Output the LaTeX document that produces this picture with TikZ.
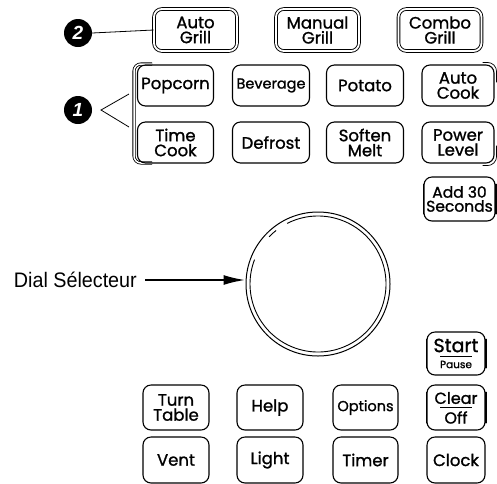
\documentclass[tikz,border=0pt]{standalone}
\usepackage{fontspec}
\usetikzlibrary{arrows.meta}
\setmainfont{Poppins}[FakeBold=1.2]
\newfontfamily\labfont{Liberation Sans}
\begin{document}
\begin{tikzpicture}[x=1pt,y=-1pt,
  btn/.style={draw, line width=1.1pt, rounded corners=8pt, align=center, inner sep=0pt,
    font=\fontsize{16.5}{15}\selectfont},
  dbtn/.style={btn, double=white, double distance=1.8pt, line width=0.9pt},
  badge/.style={circle, fill=black, minimum size=28pt, inner sep=0pt, text=white,
    font=\labfont\bfseries\itshape\fontsize{19}{19}\selectfont},
  lead/.style={line width=0.8pt},
  side/.style={line width=1.9pt, line cap=round},
  extra/.style={line width=0.7pt, rounded corners=9pt}]
\useasboundingbox (0,0) rectangle (497,483);
% top row
\node[dbtn, minimum width=83pt, minimum height=42pt] (autogrill) at (195.5,30) {Auto\\Grill};
\node[dbtn, minimum width=83pt, minimum height=42pt] (manualgrill) at (317.5,30) {Manual\\Grill};
\node[dbtn, minimum width=83pt, minimum height=42pt] (combogrill) at (440,30) {Combo\\Grill};
% group bracket
\draw[line width=0.8pt, double=white, double distance=1.5pt, rounded corners=7pt]
  (152,64) -- (134,64) -- (134,163) -- (152,163);
% row 2
\node[btn, minimum width=76pt, minimum height=41pt] (popcorn) at (175.5,85.5) {Popcorn};
\node[btn, minimum width=77pt, minimum height=41pt] (beverage) at (271,85.5) {\fontsize{14.5}{14}\selectfont Beverage};
\node[btn, minimum width=77pt, minimum height=41pt] (potato) at (365,85.5) {Potato};
\node[btn, minimum width=72pt, minimum height=41pt] (autocook) at (458,85.5) {Auto\\Cook};
\draw[extra] ([xshift=-12pt,yshift=2pt]autocook.north east) -- ([xshift=2pt,yshift=2pt]autocook.north east) -- ([xshift=2pt,yshift=-18pt]autocook.north east);
% row 3
\node[btn, minimum width=76pt, minimum height=41pt] (timecook) at (175.5,142.5) {Time\\Cook};
\node[btn, minimum width=77pt, minimum height=41pt] (defrost) at (271,142.5) {Defrost};
\node[btn, minimum width=77pt, minimum height=41pt] (soften) at (365,142.5) {Soften\\Melt};
\node[btn, minimum width=72pt, minimum height=41pt] (power) at (458,142.5) {Power\\Level};
\draw[extra] ([xshift=-12pt,yshift=-2pt]power.south east) -- ([xshift=2pt,yshift=-2pt]power.south east) -- ([xshift=2pt,yshift=18pt]power.south east);
% add 30
\node[btn, minimum width=71pt, minimum height=44pt, font=\fontsize{15.5}{14}\selectfont] (add30) at (459.5,199) {Add 30\\Seconds};
\draw[side] ([yshift=8pt]add30.south west) -- ([yshift=-8pt]add30.north west);
\draw[side] ([yshift=8pt]add30.south east) -- ([yshift=-8pt]add30.north east);
% dial
\node[circle, draw, line width=1pt, minimum size=144pt, inner sep=0pt] (dial) at (318,284) {};
\draw[line width=0.9pt] (dial.center) ++(243:68) arc[start angle=243, end angle=561, radius=68];
\draw[line width=0.9pt] (dial.center) ++(224:68) arc[start angle=224, end angle=232, radius=68];
\node[anchor=east, font=\labfont\fontsize{21}{21}\selectfont, xscale=0.94, inner sep=0pt] (diallab) at (137,280) {Dial Sélecteur};
\draw[-{Latex[length=22pt,width=10pt]}, line width=2.2pt] (145,280) -- (dial.west |- 0,280);
% badges
\node[badge] (b2) at (78,33) {2};
\node[badge] (b1) at (78,110) {1};
\draw[lead] (b2.east) -- (autogrill.west);
\coordinate (c1a) at (129,94);
\coordinate (c1b) at (129,127);
\draw[lead] (c1a) -- (101,110) -- (c1b);
% start / clear
\node[btn, minimum width=58pt, minimum height=43pt] (start) at (456,353.5) {};
\draw[side] ([yshift=8pt]start.south west) -- ([yshift=-8pt]start.north west);
\draw[side] ([yshift=8pt]start.south east) -- ([yshift=-8pt]start.north east);
\node[font=\fontsize{19}{19}\selectfont, inner sep=0pt] (starttxt) at (456,345.5) {Start};
\node[font=\fontsize{10.5}{10}\selectfont, inner sep=0pt] (pausetxt) at (456,364.5) {Pause};
\draw[line width=0.6pt] (440,356) -- (472,356);
% row 5
\node[btn, minimum width=66pt, minimum height=45pt] (turntable) at (176,407.5) {Turn\\Table};
\node[btn, minimum width=66pt, minimum height=45pt] (help) at (270,407.5) {Help};
\node[btn, minimum width=65pt, minimum height=45pt] (options) at (365.5,407.5) {\fontsize{14.5}{14}\selectfont Options};
\node[btn, minimum width=58pt, minimum height=45pt] (clear) at (456,407.5) {};
\draw[side] ([yshift=8pt]clear.south west) -- ([yshift=-8pt]clear.north west);
\draw[side] ([yshift=8pt]clear.south east) -- ([yshift=-8pt]clear.north east);
\node[font=\fontsize{16}{14}\selectfont, inner sep=0pt] (cleartxt) at (456,398) {Clear};
\node[font=\fontsize{16}{14}\selectfont, inner sep=0pt] (offtxt) at (456,417.5) {Off};
\draw[line width=0.6pt] (440,407.5) -- (472,407.5);
% row 6
\node[btn, minimum width=66pt, minimum height=46pt] (vent) at (176,460) {Vent};
\node[btn, minimum width=66pt, minimum height=46pt] (light) at (270,460) {Light};
\node[btn, minimum width=65pt, minimum height=46pt] (timer) at (365.5,460) {Timer};
\node[btn, minimum width=58pt, minimum height=46pt] (clock) at (456,460) {Clock};
\end{tikzpicture}
\end{document}
